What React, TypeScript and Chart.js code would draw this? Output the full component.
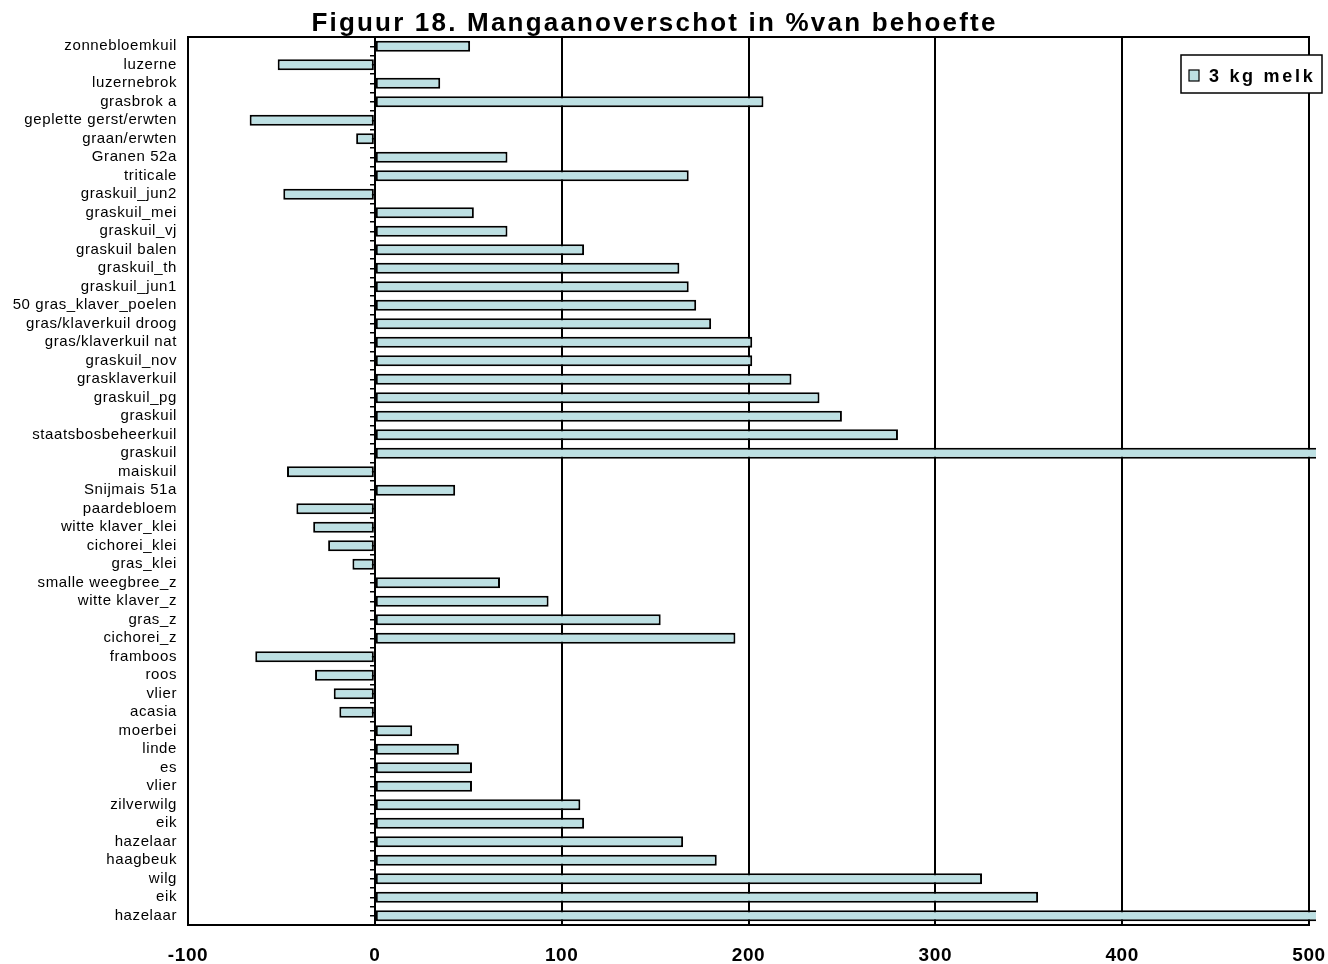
import React, { useEffect, useRef } from 'react';
import { Chart, registerables } from 'chart.js';

Chart.register(...registerables);

const TITLE = 'Figuur 18. Mangaanoverschot in %van behoefte';
const SERIES_LABEL = '3 kg melk';

const categories = [
  'zonnebloemkuil', 'luzerne', 'luzernebrok', 'grasbrok a', 'geplette gerst/erwten',
  'graan/erwten', 'Granen 52a', 'triticale', 'graskuil_jun2', 'graskuil_mei',
  'graskuil_vj', 'graskuil balen', 'graskuil_th', 'graskuil_jun1', '50 gras_klaver_poelen',
  'gras/klaverkuil droog', 'gras/klaverkuil nat', 'graskuil_nov', 'grasklaverkuil', 'graskuil_pg',
  'graskuil', 'staatsbosbeheerkuil', 'graskuil', 'maiskuil', 'Snijmais 51a',
  'paardebloem', 'witte klaver_klei', 'cichorei_klei', 'gras_klei', 'smalle weegbree_z',
  'witte klaver_z', 'gras_z', 'cichorei_z', 'framboos', 'roos',
  'vlier', 'acasia', 'moerbei', 'linde', 'es',
  'vlier', 'zilverwilg', 'eik', 'hazelaar', 'haagbeuk',
  'wilg', 'eik', 'hazelaar',
];

const values = [
  51, -52, 35, 208, -67,
  -10, 71, 168, -49, 53,
  71, 112, 163, 168, 172,
  180, 202, 202, 223, 238,
  250, 280, 540, -47, 43,
  -42, -33, -25, -12, 67,
  93, 153, 193, -64, -32,
  -22, -19, 20, 45, 52,
  52, 110, 112, 165, 183,
  325, 355, 540,
];

const xTicks = [-100, 0, 100, 200, 300, 400, 500];

const BAR_FILL = '#bde0e3';
const INK = '#000000';

const setSpacing = (ctx: any, v: string) => {
  try { ctx.letterSpacing = v; } catch (e) { /* ignore */ }
};

const spacingAndFrame = {
  id: 'spacingAndFrame',
  beforeDraw(chart: any) {
    const tb = chart.titleBlock;
    if (tb && !tb.__spaced) {
      const orig = tb.draw.bind(tb);
      tb.draw = (...args: any[]) => {
        const c = chart.ctx;
        c.save();
        setSpacing(c, '2.2px');
        orig(...args);
        c.restore();
      };
      tb.__spaced = true;
    }
    setSpacing(chart.ctx, '0.6px');
  },
  afterDraw(chart: any) {
    const { ctx, chartArea } = chart;
    ctx.save();
    setSpacing(ctx, '0px');
    // top frame line
    ctx.strokeStyle = INK;
    ctx.lineWidth = 2;
    ctx.beginPath();
    ctx.moveTo(chartArea.left - 1, chartArea.top);
    ctx.lineTo(chartArea.right + 1, chartArea.top);
    ctx.stroke();

    // legend box
    const ds = chart.data.datasets[0];
    const bx = chart.width - 147;
    const by = 55;
    const bw = 141;
    const bh = 38;
    ctx.fillStyle = '#ffffff';
    ctx.fillRect(bx, by, bw, bh);
    ctx.lineWidth = 1.5;
    ctx.strokeStyle = INK;
    ctx.strokeRect(bx, by, bw, bh);
    ctx.fillStyle = ds.backgroundColor;
    ctx.fillRect(bx + 8, by + 15, 10, 11);
    ctx.lineWidth = 1.2;
    ctx.strokeRect(bx + 8, by + 15, 10, 11);
    ctx.fillStyle = INK;
    ctx.font = 'bold 18px "Liberation Sans", Arial, sans-serif';
    ctx.textBaseline = 'alphabetic';
    ctx.textAlign = 'left';
    setSpacing(ctx, '2.7px');
    ctx.fillText(ds.label, bx + 28, by + 27);
    ctx.restore();
    setSpacing(ctx, '0px');
  },
};

export default function App() {
  const ref = useRef<HTMLCanvasElement | null>(null);

  useEffect(() => {
    if (!ref.current) return;
    Chart.defaults.font.family = '"Liberation Sans", Arial, sans-serif';
    Chart.defaults.color = INK;
    const chart = new Chart(ref.current, {
      type: 'bar',
      data: {
        labels: categories,
        datasets: [
          {
            label: SERIES_LABEL,
            data: values,
            backgroundColor: BAR_FILL,
            borderColor: INK,
            borderWidth: 2,
            borderSkipped: false,
            barPercentage: 0.6,
            categoryPercentage: 1,
            clip: { left: 0, top: 0, right: 7, bottom: 0 },
            xAxisID: 'x',
            yAxisID: 'y',
          },
        ],
      },
      options: {
        indexAxis: 'y',
        animation: false,
        responsive: true,
        maintainAspectRatio: false,
        layout: { padding: { left: 0, right: 19, top: 0, bottom: 0 } },
        plugins: {
          legend: { display: false },
          tooltip: { enabled: false },
          title: {
            display: true,
            text: TITLE,
            color: INK,
            font: { size: 26, weight: 'bold', lineHeight: 1.2 },
            padding: { top: 8.5, bottom: -2.7 },
          },
        },
        scales: {
          y: {
            type: 'category',
            position: 'left',
            offset: true,
            grid: { display: false },
            border: { display: true, color: INK, width: 2 },
            ticks: {
              color: INK,
              font: { size: 15 },
              padding: 3,
              autoSkip: false,
            },
            afterFit: (s: any) => { s.width = 188; },
          },
          yTickA: {
            type: 'category',
            axis: 'y',
            position: { x: 0 },
            offset: true,
            grid: { display: true, offset: true, drawOnChartArea: false, drawTicks: true, tickLength: 5, color: INK, lineWidth: 1.5 },
            border: { display: false },
            ticks: { display: false, autoSkip: false },
          },
          yTickB: {
            type: 'category',
            axis: 'y',
            position: { x: 0 },
            offset: true,
            grid: { display: true, offset: false, drawOnChartArea: false, drawTicks: true, tickLength: 5, color: INK, lineWidth: 1.5 },
            border: { display: false },
            ticks: { display: false, autoSkip: false },
          },
          x: {
            type: 'linear',
            position: 'bottom',
            min: xTicks[0],
            max: xTicks[xTicks.length - 1],
            afterBuildTicks: (s: any) => { s.ticks = xTicks.map((v) => ({ value: v })); },
            grid: { display: true, color: INK, lineWidth: 2, drawTicks: false },
            border: { display: true, color: INK, width: 2 },
            ticks: {
              color: INK,
              font: { size: 19, weight: 'bold' },
              padding: 19,
            },
            afterFit: (s: any) => {
              s.height = 39;
              s.paddingLeft = 0;
              s.paddingRight = 0;
            },
          },
        },
      },
      plugins: [spacingAndFrame],
    } as any);
    chart.draw();
    return () => chart.destroy();
  }, []);

  return (
    <div style={{ position: 'fixed', left: 0, top: 0, width: 1328, height: 964, background: '#ffffff' }}>
      <canvas ref={ref} />
    </div>
  );
}
